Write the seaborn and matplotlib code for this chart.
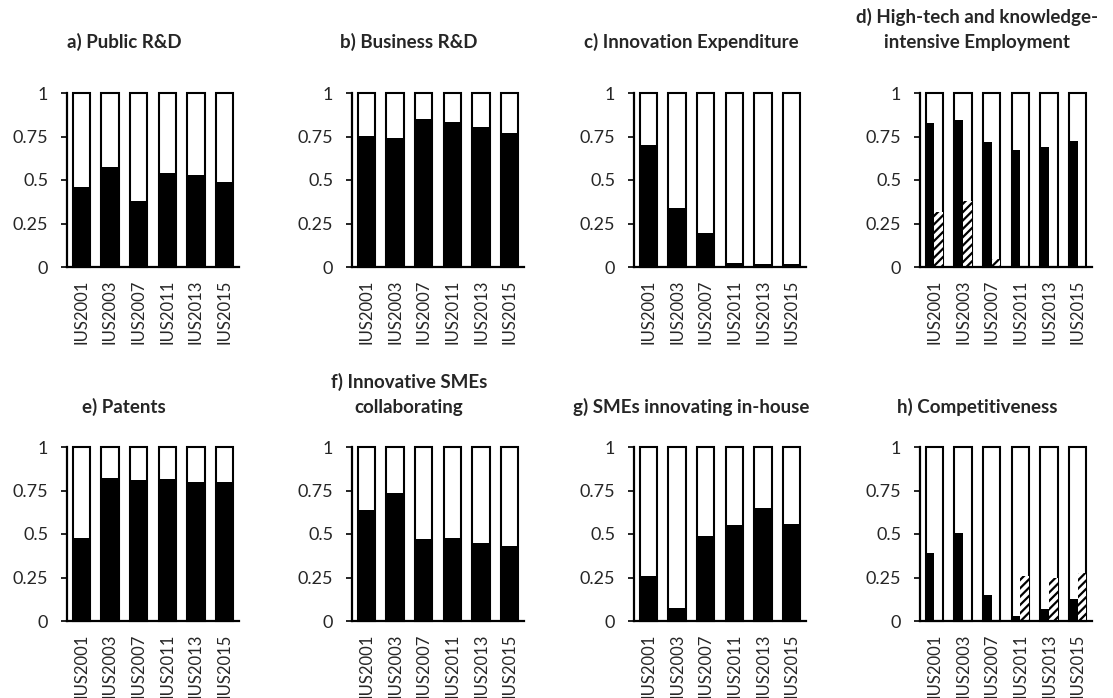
import matplotlib
matplotlib.use("Agg")
import matplotlib.pyplot as plt
import pandas as pd
import seaborn as sns

# Scoreboard editions shown on every panel
editions = ["IUS2001", "IUS2003", "IUS2007", "IUS2011", "IUS2013", "IUS2015"]
full_scale = [1, 1, 1, 1, 1, 1]

# Share values per indicator (black bars)
public_rd = [0.46, 0.575, 0.38, 0.54, 0.53, 0.49]
business_rd = [0.755, 0.742, 0.849, 0.832, 0.803, 0.769]
innovation_exp = [0.70, 0.337, 0.196, 0.023, 0.019, 0.017]
hightech_emp = [0.825, 0.846, 0.719, 0.675, 0.692, 0.725]
patents = [0.477, 0.824, 0.810, 0.818, 0.799, 0.799]
smes_collab = [0.640, 0.738, 0.471, 0.475, 0.450, 0.431]
smes_inhouse = [0.261, 0.075, 0.489, 0.554, 0.649, 0.557]
competitiveness = [0.388, 0.504, 0.150, 0.030, 0.067, 0.124]

# Second component (hatched bars) for the two composite indicators
hightech_emp_2 = [0.317, 0.381, 0.048, 0.0, 0.0, 0.0]
competitiveness_2 = [0.0, 0.0, 0.0, 0.260, 0.245, 0.276]

titles = [
    "a) Public R&D",
    "b) Business R&D",
    "c) Innovation Expenditure",
    "d) High-tech and knowledge-\nintensive Employment",
    "e) Patents",
    "f) Innovative SMEs\ncollaborating",
    "g) SMEs innovating in-house",
    "h) Competitiveness",
]
series = [
    (public_rd, None),
    (business_rd, None),
    (innovation_exp, None),
    (hightech_emp, hightech_emp_2),
    (patents, None),
    (smes_collab, None),
    (smes_inhouse, None),
    (competitiveness, competitiveness_2),
]

sns.set_style("white")
plt.rcParams["font.family"] = ["Lato", "DejaVu Sans"]
plt.rcParams["hatch.color"] = "black"
plt.rcParams["hatch.linewidth"] = 1.6

W, H = 1113, 698
fig = plt.figure(figsize=(W / 100, H / 100), dpi=100)

lefts = [67, 352, 634, 920]
row_zero = [267, 621]   # pixel row of the y=0 line
ax_w, ax_h = 172, 174


def draw_panel(ax, main, second):
    sns.barplot(x=editions, y=full_scale, color="white", edgecolor="black",
                linewidth=1.5, width=0.6, saturation=1, ax=ax)
    if second is None:
        sns.barplot(x=editions, y=main, color="black", linewidth=0,
                    width=0.6, saturation=1, ax=ax)
    else:
        df = pd.DataFrame({
            "edition": editions * 2,
            "value": list(main) + list(second),
            "part": ["main"] * 6 + ["second"] * 6,
        })
        sns.barplot(data=df, x="edition", y="value", hue="part",
                    palette=["black", "white"], linewidth=0, width=0.6,
                    saturation=1, legend=False, ax=ax)
        for p in ax.patches[12:]:
            p.set_hatch("////")
            p.set_edgecolor("black")
            p.set_linewidth(0)
    for p in ax.patches:
        p.set_clip_on(False)
    ax.set_ylim(0, 1)
    ax.set_xlim(-0.5, 5.5)
    ax.set_yticks([0, 0.25, 0.5, 0.75, 1])
    ax.set_yticklabels(["0", "0.25", "0.5", "0.75", "1"])
    ax.set_xlabel("")
    ax.set_ylabel("")
    ax.tick_params(axis="y", length=4.5, width=1.2, direction="out",
                   labelsize=13, pad=9, color="black", left=True)
    ax.tick_params(axis="x", length=0, labelsize=12, pad=9, rotation=90)
    for lbl in ax.get_xticklabels():
        lbl.set_va("top")
    sns.despine(ax=ax)
    for side in ("left", "bottom"):
        ax.spines[side].set_color("black")
        ax.spines[side].set_linewidth(1.6)


for i, (title, (main, second)) in enumerate(zip(titles, series)):
    r, c = divmod(i, 4)
    x0 = lefts[c]
    y0 = row_zero[r]
    ax = fig.add_axes([x0 / W, (H - y0) / H, ax_w / W, ax_h / H])
    draw_panel(ax, main, second)
    cx = x0 + ax_w / 2 - 29
    title_base = 43 if r == 0 else 408
    fig.text(cx / W, (H - title_base - 8) / H, title, ha="center",
             va="bottom", fontsize=13.5, fontweight="bold", linespacing=1.6,
             multialignment="center")

fig.savefig("out.png", dpi=100)
